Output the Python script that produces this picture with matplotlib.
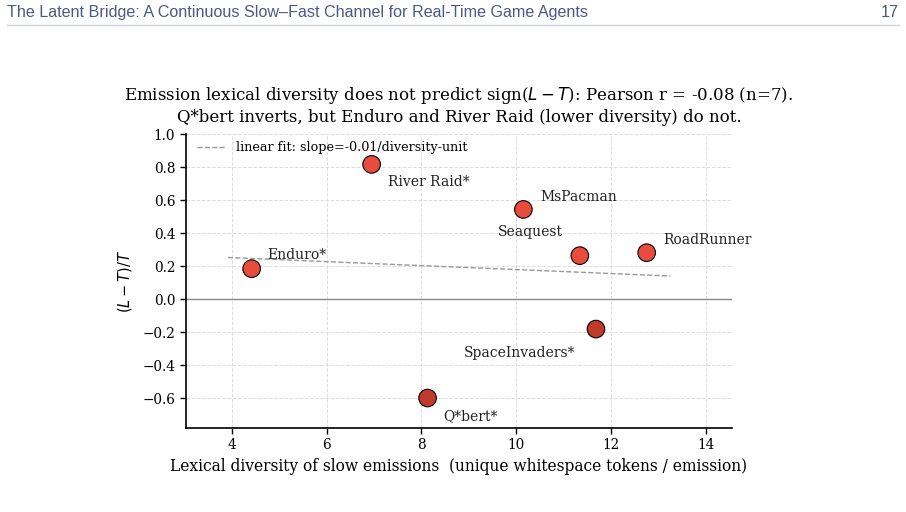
import numpy as np
import matplotlib
matplotlib.use("Agg")
import matplotlib.pyplot as plt

# ---- data ----
games = ["Enduro*", "River Raid*", "Q*bert*", "MsPacman", "Seaquest", "SpaceInvaders*", "RoadRunner"]
diversity = [4.42, 6.95, 8.13, 10.15, 11.34, 11.68, 12.75]
rel_gap = [0.184, 0.816, -0.600, 0.543, 0.263, -0.182, 0.281]

title_text = ("Emission lexical diversity does not predict sign($L-T$): Pearson r = -0.08 (n=7).\n"
              "Q*bert inverts, but Enduro and River Raid (lower diversity) do not.")
xlabel_text = "Lexical diversity of slow emissions  (unique whitespace tokens / emission)"
ylabel_text = "$(L-T)/T$"
header_left = "The Latent Bridge: A Continuous Slow\u2013Fast Channel for Real-Time Game Agents"
header_right = "17"

# label placement (offset points, horizontal alignment)
label_pos = {
    "Enduro*": ((11, 10), "left"),
    "River Raid*": ((12, -13), "left"),
    "Q*bert*": ((11, -13), "left"),
    "MsPacman": ((12, 9), "left"),
    "Seaquest": ((-12, 17), "right"),
    "SpaceInvaders*": ((-15, -17), "right"),
    "RoadRunner": ((12, 9), "left"),
}

plt.rcParams["font.family"] = ["DejaVu Serif"]
plt.rcParams["mathtext.fontset"] = "dejavusans"

fig = plt.figure(figsize=(9.06, 5.12), dpi=100)
ax = fig.add_axes([0.205, 0.1646, 0.603, 0.5736])

x = np.array(diversity)
y = np.array(rel_gap)

# linear fit
slope, intercept = np.polyfit(x, y, 1)
xf = np.array([x.min() - 0.5, x.max() + 0.5])
ax.plot(xf, slope * xf + intercept, ls="--", color="#999999", lw=1.0,
        label=f"linear fit: slope={slope:.2f}/diversity-unit", zorder=2)

ax.axhline(0, color="#888888", lw=1.0, zorder=1)

colors = ["#c0392b" if v < 0 else "#e74c3c" for v in y]
ax.scatter(x, y, s=160, c=colors, edgecolors="black", linewidths=0.8, zorder=3)

for g, xi, yi in zip(games, x, y):
    off, ha = label_pos[g]
    ax.annotate(g, (xi, yi), xytext=off, textcoords="offset points",
                ha=ha, va="center", fontsize=10, color="#222222")

ax.set_xlim(3.03, 14.55)
ax.set_ylim(-0.78, 1.0)
ax.set_xticks([4, 6, 8, 10, 12, 14])
ax.set_yticks([-0.6, -0.4, -0.2, 0.0, 0.2, 0.4, 0.6, 0.8, 1.0])
ax.grid(True, ls="--", color="#dddddd", lw=0.7)
ax.set_axisbelow(True)
for s in ["top", "right"]:
    ax.spines[s].set_visible(False)
for s in ["left", "bottom"]:
    ax.spines[s].set_linewidth(1.2)
ax.tick_params(labelsize=9.8, length=4, width=1.0)

ax.set_xlabel(xlabel_text, fontsize=11.2, labelpad=4)
ax.set_ylabel(ylabel_text, fontsize=10.5, labelpad=6)
ax.set_title(title_text, fontsize=12, pad=9, linespacing=1.2)

leg = ax.legend(loc="upper left", frameon=False, fontsize=9.2, handlelength=2.2,
                bbox_to_anchor=(0.0, 1.015))

# page header
fig.text(7 / 906, 1 - 12.7 / 512, header_left, family="Liberation Sans", fontsize=11.6,
         color="#4a5a86", ha="left", va="center")
fig.text(899 / 906, 1 - 12.7 / 512, header_right, family="Liberation Sans", fontsize=11.6,
         color="#4a5a86", ha="right", va="center")
fig.add_artist(plt.Line2D([7 / 906, 899 / 906], [1 - 24.5 / 512, 1 - 24.5 / 512],
                          transform=fig.transFigure, color="#cdd0e3", lw=1.0))

fig.savefig("out.png", dpi=100)
